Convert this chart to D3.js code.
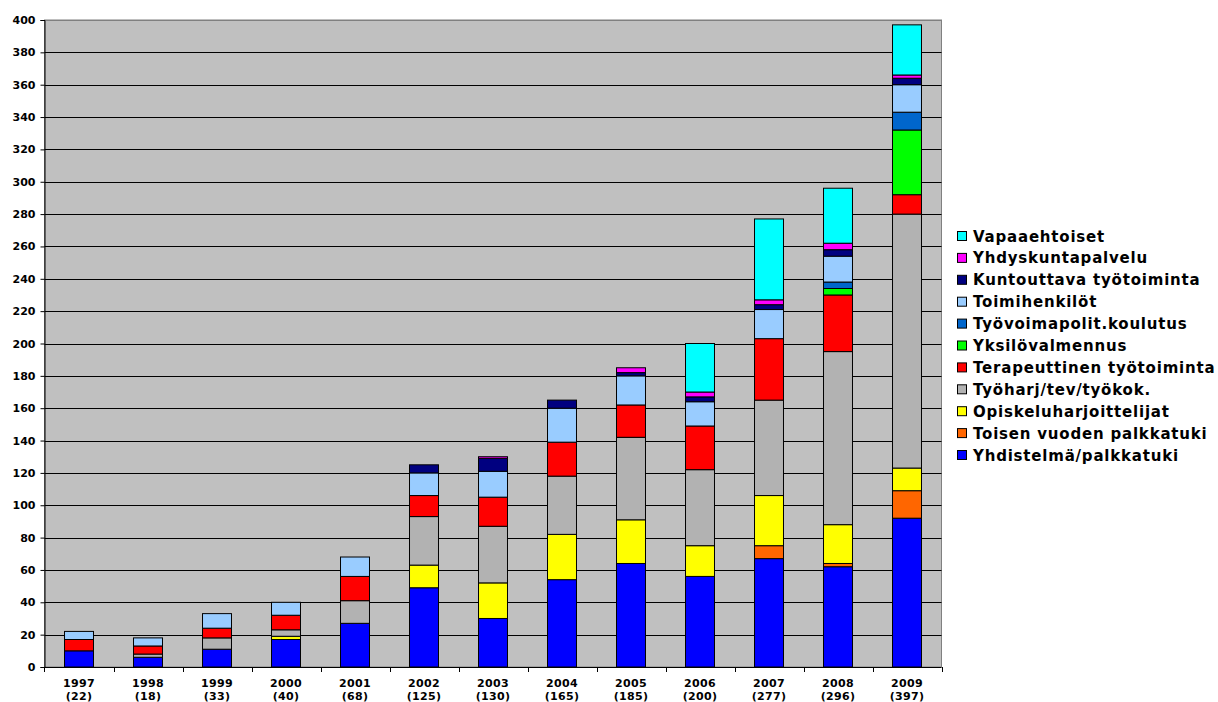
<!DOCTYPE html>
<html>
<head>
<meta charset="utf-8">
<script src="https://cdn.jsdelivr.net/npm/d3@7/dist/d3.min.js"></script>
<style>
  html, body { margin: 0; padding: 0; background: #fff; }
  svg { display: block; font-family: 'DejaVu Sans', Verdana, sans-serif; font-weight: bold; }
</style>
</head>
<body>
<div class="chart_container"></div>
<script>
'use strict';

// categories and bar totals shown under the years
const years = ['1997', '1998', '1999', '2000', '2001', '2002', '2003', '2004', '2005', '2006', '2007', '2008', '2009'];
const totals = [22, 18, 33, 40, 68, 125, 130, 165, 185, 200, 277, 296, 397];

// series, bottom to top in the stack
const seriesNames = [
  'Yhdistelmä/palkkatuki',
  'Toisen vuoden palkkatuki',
  'Opiskeluharjoittelijat',
  'Työharj/tev/työkok.',
  'Terapeuttinen työtoiminta',
  'Yksilövalmennus',
  'Työvoimapolit.koulutus',
  'Toimihenkilöt',
  'Kuntouttava työtoiminta',
  'Yhdyskuntapalvelu',
  'Vapaaehtoiset'
];

const yhdistelma   = [10, 6, 11, 17, 27, 49, 30, 54, 64, 56, 67, 62, 92];
const toisenVuoden = [0, 0, 0, 0, 0, 0, 0, 0, 0, 0, 8, 2, 17];
const opiskelu     = [0, 0, 0, 2, 0, 14, 22, 28, 27, 19, 31, 24, 14];
const tyoharj      = [0, 2, 7, 4, 14, 30, 35, 36, 51, 47, 59, 107, 157];
const terapeuttinen = [7, 5, 6, 9, 15, 13, 18, 21, 20, 27, 38, 35, 12];
const yksilo       = [0, 0, 0, 0, 0, 0, 0, 0, 0, 0, 0, 4, 40];
const tyovoima     = [0, 0, 0, 0, 0, 0, 0, 0, 0, 0, 0, 4, 11];
const toimihenkilot = [5, 5, 9, 8, 12, 14, 16, 21, 18, 15, 18, 16, 17];
const kuntouttava  = [0, 0, 0, 0, 0, 5, 8, 5, 2, 3, 3, 4, 4];
const yhdyskunta   = [0, 0, 0, 0, 0, 0, 1, 0, 3, 3, 3, 4, 2];
const vapaaehtoiset = [0, 0, 0, 0, 0, 0, 0, 0, 0, 30, 50, 34, 31];

const seriesValues = [yhdistelma, toisenVuoden, opiskelu, tyoharj, terapeuttinen,
  yksilo, tyovoima, toimihenkilot, kuntouttava, yhdyskunta, vapaaehtoiset];

const colors = ['#0000ff', '#ff6600', '#ffff00', '#b2b2b2', '#ff0000',
  '#00ff00', '#0066cc', '#99ccff', '#000080', '#ff00ff', '#00ffff'];

const yTicks = d3.range(0, 401, 20);

const width = 1218,
  height = 702;

const plot = { left: 44.5, right: 941.5, top: 20, bottom: 667 };

const svg = d3.select('.chart_container')
  .append('svg')
  .attr('width', width)
  .attr('height', height);

// build rows for d3.stack from the named arrays
const rows = years.map((y, i) => {
  const row = { year: y };
  seriesNames.forEach((s, j) => { row[s] = seriesValues[j][i]; });
  return row;
});

const stacked = d3.stack().keys(seriesNames)(rows);

const xScale = d3.scaleBand()
  .domain(years)
  .range([plot.left, plot.right])
  .paddingInner(0.58)
  .paddingOuter(0.29);

const yScale = d3.scaleLinear()
  .domain([0, 400])
  .range([plot.bottom, plot.top]);

// plot background
svg.append('rect')
  .attr('x', plot.left)
  .attr('y', plot.top)
  .attr('width', plot.right - plot.left)
  .attr('height', plot.bottom - plot.top)
  .attr('fill', '#c0c0c0')
  .attr('stroke', '#808080')
  .attr('stroke-width', 1);

// gridlines
svg.append('g')
  .selectAll('line')
  .data(yTicks.filter(t => t > 0))
  .enter()
  .append('line')
  .attr('x1', plot.left)
  .attr('x2', plot.right)
  .attr('y1', d => Math.round(yScale(d)) + 0.5)
  .attr('y2', d => Math.round(yScale(d)) + 0.5)
  .attr('stroke', d => d === 400 ? '#808080' : '#000')
  .attr('stroke-width', 1);

// bars
svg.append('g')
  .selectAll('g')
  .data(stacked)
  .enter()
  .append('g')
  .attr('fill', (d, i) => colors[i])
  .selectAll('rect')
  .data(d => d.filter(p => p[1] - p[0] > 0))
  .enter()
  .append('rect')
  .attr('x', d => xScale(d.data.year))
  .attr('y', d => yScale(d[1]))
  .attr('width', xScale.bandwidth())
  .attr('height', d => yScale(d[0]) - yScale(d[1]))
  .attr('stroke', '#000')
  .attr('stroke-width', 1);

// y axis
const yAxis = d3.axisLeft(yScale)
  .tickValues(yTicks)
  .tickSize(4)
  .tickPadding(5);

svg.append('g')
  .attr('id', 'y-axis')
  .attr('transform', `translate(${plot.left}, 0)`)
  .call(yAxis)
  .call(g => g.select('.domain').attr('stroke', '#000'))
  .call(g => g.selectAll('.tick line').attr('stroke', '#000'))
  .call(g => g.selectAll('text')
    .attr('font-size', '11px')
    .attr('font-weight', 'bold')
    .attr('font-family', "'DejaVu Sans', Verdana, sans-serif")
    .attr('fill', '#000'));

// x axis line + ticks at category boundaries
const xAxisG = svg.append('g').attr('id', 'x-axis');

xAxisG.append('line')
  .attr('x1', plot.left)
  .attr('x2', plot.right)
  .attr('y1', plot.bottom + 0.5)
  .attr('y2', plot.bottom + 0.5)
  .attr('stroke', '#000');

const half = (xScale.step() - xScale.bandwidth()) / 2;
const boundaries = years.map(y => xScale(y) - half).concat([plot.right]);

xAxisG.selectAll('.xtick')
  .data(boundaries)
  .enter()
  .append('line')
  .attr('class', 'xtick')
  .attr('x1', d => Math.round(d) + 0.5)
  .attr('x2', d => Math.round(d) + 0.5)
  .attr('y1', plot.bottom)
  .attr('y2', plot.bottom + 5)
  .attr('stroke', '#000');

const xLabels = xAxisG.selectAll('.xlabel')
  .data(years)
  .enter()
  .append('text')
  .attr('class', 'xlabel')
  .attr('text-anchor', 'middle')
  .attr('font-size', '11px')
  .attr('letter-spacing', '0.3px')
  .attr('fill', '#000');

xLabels.append('tspan')
  .attr('x', d => xScale(d) + xScale.bandwidth() / 2)
  .attr('y', 687)
  .text(d => d);

xLabels.append('tspan')
  .attr('x', d => xScale(d) + xScale.bandwidth() / 2)
  .attr('y', 700)
  .text((d, i) => `(${totals[i]})`);

// legend, top series first
const legendItems = seriesNames.map((s, i) => ({ name: s, color: colors[i] })).reverse();

const legend = svg.append('g')
  .attr('transform', 'translate(957, 236)');

const item = legend.selectAll('g')
  .data(legendItems)
  .enter()
  .append('g')
  .attr('transform', (d, i) => `translate(0, ${i * 21.9})`);

item.append('rect')
  .attr('x', 0.5)
  .attr('y', -4.5)
  .attr('width', 9)
  .attr('height', 9)
  .attr('fill', d => d.color)
  .attr('stroke', '#000')
  .attr('stroke-width', 1);

item.append('text')
  .attr('x', 16)
  .attr('y', 5.5)
  .attr('font-size', '15px')
  .attr('letter-spacing', '0.8px')
  .attr('fill', '#000')
  .text(d => d.name);
</script>
</body>
</html>
